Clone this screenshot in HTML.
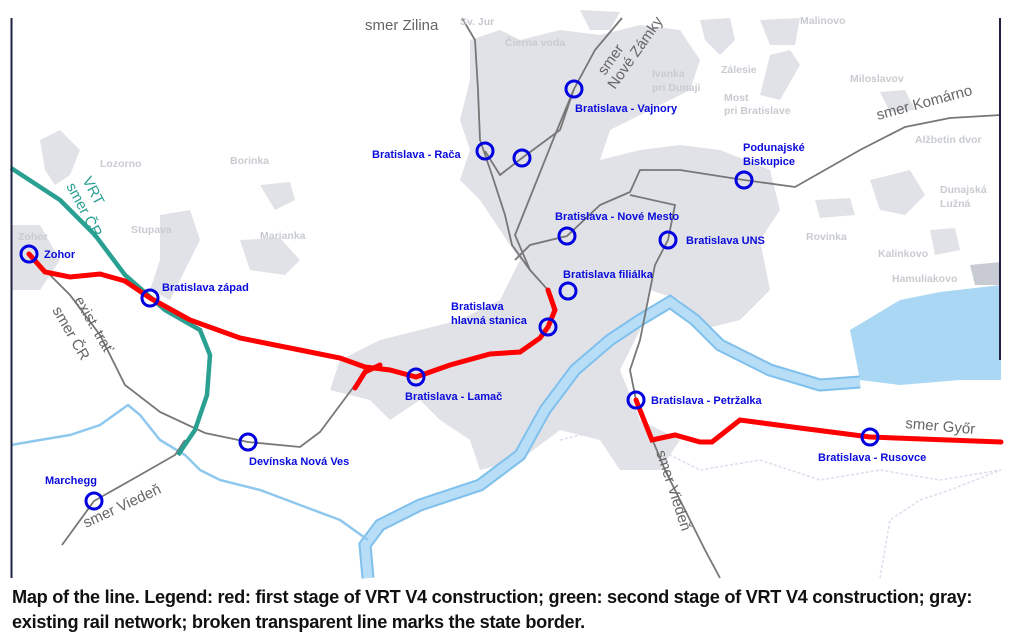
<!DOCTYPE html>
<html><head><meta charset="utf-8"><style>
html,body{margin:0;padding:0;background:#fff;width:1011px;height:643px;overflow:hidden}
svg{position:absolute;left:0;top:0}
.cap{position:absolute;left:12px;top:585px;white-space:nowrap;font-family:"Liberation Sans",sans-serif;font-weight:bold;font-size:18px;line-height:25px;color:#111;letter-spacing:-0.3px;transform:scaleX(1.01);transform-origin:left top}
</style></head><body>
<svg width="1011" height="643" viewBox="0 0 1011 643" font-family="Liberation Sans, sans-serif">
<g fill="#e0e2e7">
<path d="M470,40 L500,30 L520,40 L560,30 L600,35 L640,25 L680,30 L700,60 L690,90 L650,110 L610,130 L600,160 L640,150 L680,145 L720,150 L770,170 L780,210 L760,240 L770,290 L740,320 L700,330 L680,300 L650,290 L640,330 L620,370 L640,420 L680,440 L660,470 L620,470 L600,440 L560,430 L520,460 L480,470 L470,440 L440,420 L420,400 L390,420 L370,400 L330,390 L340,360 L380,340 L420,330 L460,320 L500,300 L520,260 L500,230 L480,200 L460,180 L470,150 L460,120 L470,80 Z"/>
<path d="M40,140 L60,130 L80,150 L70,175 L55,185 L45,170 Z"/>
<path d="M11,225 L40,225 L60,260 L40,290 L11,290 Z"/>
<path d="M160,215 L190,210 L200,240 L185,270 L170,300 L150,290 L160,260 Z"/>
<path d="M260,185 L290,182 L295,200 L275,210 Z"/>
<path d="M240,240 L280,238 L300,260 L285,275 L250,270 Z"/>
<path d="M580,10 L620,12 L610,30 L590,30 Z"/>
<path d="M700,20 L730,18 L735,40 L720,55 L705,40 Z"/>
<path d="M760,20 L800,18 L795,45 L770,45 Z"/>
<path d="M770,55 L790,50 L800,65 L780,100 L760,95 Z"/>
<path d="M870,180 L910,170 L925,195 L905,215 L880,210 Z"/>
<path d="M815,200 L850,198 L855,215 L820,218 Z"/>
<path d="M930,230 L955,228 L960,250 L935,255 Z"/>
<path d="M970,265 L1001,262 L1001,285 L975,285 Z" fill="#c8ccd2"/>
<path d="M880,92 L905,90 L915,110 L890,112 Z"/>
</g>
<path d="M560,440 L600,430 L640,440 L700,470 L760,460 L820,480 L880,470 L940,480 L1001,470" fill="none" stroke="#dde" stroke-dasharray="3,2" stroke-width="1.5"/>
<path d="M880,578 L890,520 L920,500 L950,490 L1001,470" fill="none" stroke="#dde" stroke-dasharray="3,2" stroke-width="1.5"/>
<path d="M850,330 L900,300 L940,292 L1001,285 L1001,380 L960,380 L900,385 L860,380 Z" fill="#aad7f3"/>
<path d="M368,578 L365,545 L380,525 L420,505 L480,485 L520,455 L545,410 L575,370 L610,340 L640,320 L670,302 L695,320 L720,345 L770,370 L820,385 L860,382" fill="none" stroke="#7fc0ec" stroke-width="13"/>
<path d="M368,578 L365,545 L380,525 L420,505 L480,485 L520,455 L545,410 L575,370 L610,340 L640,320 L670,302 L695,320 L720,345 L770,370 L820,385 L860,382" fill="none" stroke="#b7def6" stroke-width="9"/>
<path d="M11,445 L40,440 L70,435 L100,425 L128,405 L140,415 L160,440 L185,455 L200,470 L220,480 L260,490 L300,505 L340,520 L368,540" fill="none" stroke="#8ec8ef" stroke-width="2.5"/>
<g fill="none" stroke="#777" stroke-width="1.8">
<path d="M29,254 L70,295 L100,335 L125,385 L160,412 L205,433 L248,442 L300,447 L320,432 L355,385"/>
<path d="M62,545 L94,501 L140,475 L175,455 L185,440"/>
<path d="M462,18 L475,40 L478,90 L480,140 L492,175 L505,215 L512,245 L530,270 L548,290 L553,310"/>
<path d="M622,18 L595,50 L574,89 L555,135 L535,185 L515,235 L530,270"/>
<path d="M485,151 L500,175 L522,158 L560,130 L574,89"/>
<path d="M1001,115 L950,118 L905,127 L860,150 L795,187 L744,180 L680,170 L640,170 L630,192 L600,205 L567,236 L530,245 L515,260"/>
<path d="M630,195 L675,205 L668,240 L655,265 L648,300 L640,340 L630,370 L636,400 L665,470 L705,550 L720,578"/>
</g>
<path d="M11,168 L60,200 L95,235 L125,275 L165,310 L200,330 L210,355 L207,395 L195,430 L178,455" fill="none" stroke="#2aa092" stroke-width="4.5"/>
<g fill="none" stroke="#f00" stroke-width="5" stroke-linecap="round">
<path d="M29,254 L45,272 L70,277 L100,274 L125,281 L150,298 L190,320 L240,338 L300,350 L340,358 L365,367 L390,370 L416,377 L450,365 L490,354 L520,352 L540,338 L548,327 L555,310 L548,290"/>
<path d="M355,388 L365,372 L380,365"/>
<path d="M636,400 L652,440 L675,435 L700,442 L712,442 L740,420 L800,428 L870,437 L1001,442"/>
</g>
<g fill="none" stroke="#0000e0" stroke-width="3">
<circle cx="29" cy="254" r="8"/><circle cx="150" cy="298" r="8"/><circle cx="416" cy="377" r="8"/>
<circle cx="548" cy="327" r="8"/><circle cx="568" cy="291" r="8"/><circle cx="567" cy="236" r="8"/>
<circle cx="668" cy="240" r="8"/><circle cx="574" cy="89" r="8"/><circle cx="485" cy="151" r="8"/>
<circle cx="522" cy="158" r="8"/><circle cx="744" cy="180" r="8"/><circle cx="636" cy="400" r="8"/>
<circle cx="870" cy="437" r="8"/><circle cx="248" cy="442" r="8"/><circle cx="94" cy="501" r="8"/>
</g>
<line x1="11.5" y1="18" x2="11.5" y2="578" stroke="#1f2240" stroke-width="2"/>
<line x1="1000" y1="18" x2="1000" y2="360" stroke="#1f2240" stroke-width="2"/>
<g fill="#0a0adc" font-weight="bold" font-size="11">
<text x="44" y="258">Zohor</text>
<text x="162" y="291">Bratislava západ</text>
<text x="405" y="400">Bratislava - Lamač</text>
<text x="451" y="310">Bratislava</text><text x="451" y="324">hlavná stanica</text>
<text x="563" y="278">Bratislava filiálka</text>
<text x="555" y="220">Bratislava - Nové Mesto</text>
<text x="686" y="244">Bratislava UNS</text>
<text x="575" y="112">Bratislava - Vajnory</text>
<text x="372" y="158">Bratislava - Rača</text>
<text x="743" y="151">Podunajské</text><text x="743" y="165">Biskupice</text>
<text x="651" y="404">Bratislava - Petržalka</text>
<text x="818" y="461">Bratislava - Rusovce</text>
<text x="249" y="465">Devínska Nová Ves</text>
<text x="45" y="484">Marchegg</text>
</g>
<g fill="#c8cbd0" font-weight="bold" font-size="10.5">
<text x="100" y="167">Lozorno</text><text x="230" y="164">Borinka</text>
<text x="131" y="233">Stupava</text><text x="260" y="239">Marianka</text>
<text x="18" y="240">Zohor</text><text x="460" y="25">Sv. Jur</text>
<text x="505" y="46">Čierna voda</text><text x="652" y="77">Ivanka</text><text x="652" y="91">pri Dunaji</text>
<text x="721" y="73">Zálesie</text><text x="724" y="101">Most</text><text x="724" y="114">pri Bratislave</text>
<text x="850" y="82">Miloslavov</text><text x="915" y="143">Alžbetin dvor</text>
<text x="940" y="193">Dunajská</text><text x="940" y="207">Lužná</text>
<text x="806" y="240">Rovinka</text><text x="878" y="257">Kalinkovo</text>
<text x="892" y="282">Hamuliakovo</text><text x="800" y="24">Malinovo</text>
</g>
<g fill="#666" font-size="15">
<text x="365" y="30">smer Zilina</text>
<text x="878" y="120" transform="rotate(-15 878 120)">smer Komárno</text>
<text x="905" y="428" transform="rotate(5 905 428)">smer Győr</text>
<text x="605" y="76" transform="rotate(-55 605 76)">smer</text>
<text x="615" y="90" transform="rotate(-55 615 90)">Nové Zámky</text>
<text x="86" y="528" transform="rotate(-25 86 528)">smer Viedeň</text>
<text x="656" y="452" transform="rotate(72 656 452)">smer Viedeň</text>
<text x="52" y="310" transform="rotate(60 52 310)">smer ČR</text>
<text x="74" y="300" transform="rotate(60 74 300)">exist. trať</text>
</g>
<g fill="#2aa092" font-size="15">
<text x="82" y="180" transform="rotate(62 82 180)">VRT</text>
<text x="66" y="186" transform="rotate(62 66 186)">smer ČR</text>
</g>
</svg>
<div class="cap">Map of the line. Legend: red: first stage of VRT V4 construction; green: second stage of VRT V4 construction; gray:<br>existing rail network; broken transparent line marks the state border.</div>
</body></html>
